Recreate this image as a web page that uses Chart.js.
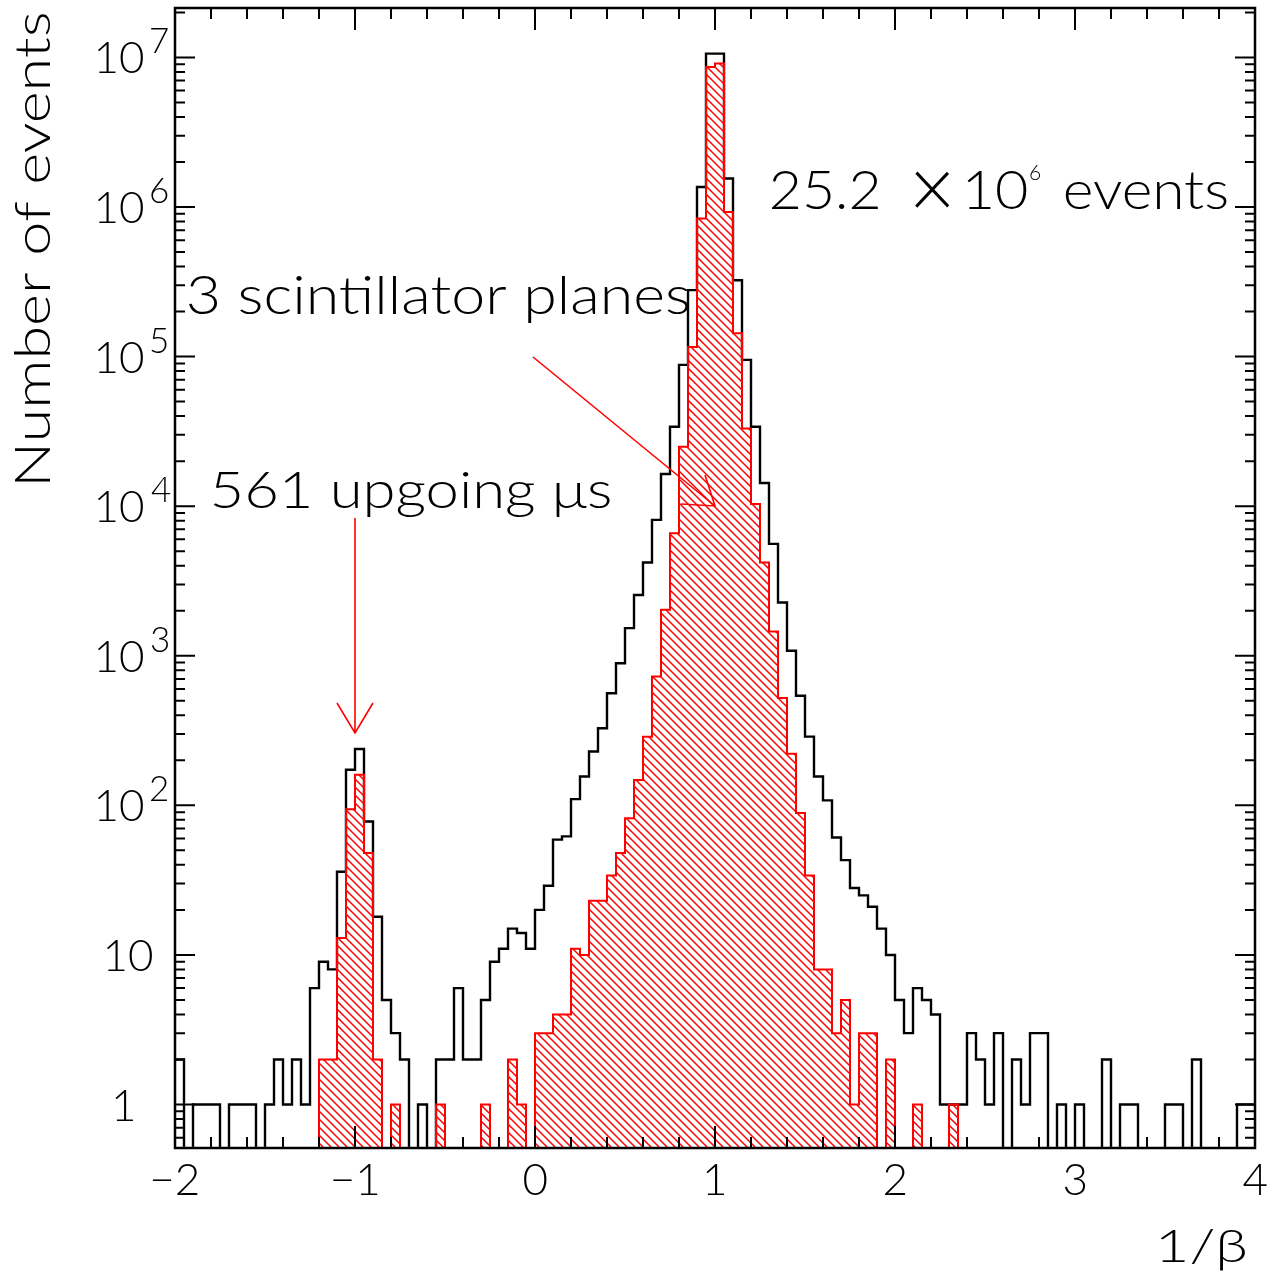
<!DOCTYPE html>
<html>
<head>
<meta charset="utf-8">
<script src="https://cdn.jsdelivr.net/npm/chart.js@4.4.1/dist/chart.umd.min.js"></script>
<style>
  html, body { margin: 0; padding: 0; background: #fff; }
  canvas { display: block; }
</style>
</head>
<body>
<canvas id="chart" width="1271" height="1276"></canvas>
<script>
// histogram binning: 120 bins of 0.05 in 1/beta, from -2 to 4
const binStart = -2;
const binWidth = 0.05;

// all events (black outline), one count per bin
const allEvents = [
  2, 0, 1, 1, 1, 0, 1, 1, 1, 0,                 // -2.00 .. -1.55
  1, 2, 1, 2, 1, 6, 9, 8, 36, 173,              // -1.50 .. -1.05
  238, 78, 18, 5, 3, 2, 0, 1, 0, 2,             // -1.00 .. -0.55
  2, 6, 2, 2, 5, 9, 11, 15, 14, 11,             // -0.50 .. -0.05
  20, 29, 59, 62, 110, 156, 229, 328, 562, 892, //  0.00 ..  0.45
  1530, 2550, 4200, 8100, 16400, 34000, 88000, 278000, 1360000, 10600000, // 0.50 .. 0.95
  10600000, 1550000, 324000, 95000, 34000, 14300, 5600, 2270, 1080, 540,  // 1.00 .. 1.45
  288, 156, 108, 61, 43, 28, 25, 21, 15, 10,    //  1.50 ..  1.95
  5, 3, 6, 5, 4, 1, 1, 1, 3, 2,                 //  2.00 ..  2.45
  1, 3, 0, 2, 1, 3, 3, 0, 1, 0,                 //  2.50 ..  2.95
  1, 0, 0, 2, 0, 1, 1, 0, 0, 0,                 //  3.00 ..  3.45
  1, 1, 0, 2, 0, 0, 0, 0, 1, 1                  //  3.50 ..  3.95
];

// events crossing 3 scintillator planes (red hatched)
const scintEvents = [
  0, 0, 0, 0, 0, 0, 0, 0, 0, 0,
  0, 0, 0, 0, 0, 0, 2, 2, 13, 94,
  160, 48, 2, 0, 1, 0, 0, 0, 0, 1,
  0, 0, 0, 0, 1, 0, 0, 2, 1, 0,
  3, 3, 4, 4, 11, 10, 23, 23, 34, 48,
  82, 148, 288, 726, 2030, 6590, 25000, 116000, 838000, 8630000,
  9090000, 927000, 143000, 33000, 10350, 4200, 1450, 521, 221, 89,
  34, 8, 8, 3, 5, 1, 3, 3, 0, 2,
  0, 0, 1, 0, 0, 0, 1, 0, 0, 0,
  0, 0, 0, 0, 0, 0, 0, 0, 0, 0,
  0, 0, 0, 0, 0, 0, 0, 0, 0, 0,
  0, 0, 0, 0, 0, 0, 0, 0, 0, 0
];

const xTickValues = [-2, -1, 0, 1, 2, 3, 4];
const xTickLabels = ['\u22122', '\u22121', '0', '1', '2', '3', '4'];
const yTickValues = [1, 10, 100, 1e3, 1e4, 1e5, 1e6, 1e7];
const yTickLabels = [['1', ''], ['10', ''], ['10', '2'], ['10', '3'], ['10', '4'], ['10', '5'], ['10', '6'], ['10', '7']];

const FAMILY = "Lato, 'Liberation Sans', sans-serif";
const EMPTY = 0.1; // empty bins sit below the axis minimum

// step outline points at the bin lower edges, plus the closing edge
function histPoints(counts) {
  const pts = counts.map((c, i) => ({ x: binStart + i * binWidth, y: c > 0 ? c : EMPTY }));
  pts.push({ x: binStart + counts.length * binWidth, y: pts[pts.length - 1].y });
  return pts;
}

const canvas = document.getElementById('chart');
const ctx = canvas.getContext('2d');

function makeHatch() {
  const c = document.createElement('canvas');
  c.width = 8; c.height = 8;
  const g = c.getContext('2d');
  g.strokeStyle = '#ff0000';
  g.lineWidth = 1.5;
  g.beginPath();
  g.moveTo(-1, -1); g.lineTo(9, 9);
  g.moveTo(-1, 7); g.lineTo(1, 9);
  g.moveTo(7, -1); g.lineTo(9, 1);
  g.stroke();
  return ctx.createPattern(c, 'repeat');
}

// draw text so that its ink starts at `left`, optionally stretched to `width`
function putText(g, str, left, baseline, size, width) {
  g.font = `300 ${size}px ${FAMILY}`;
  const m = g.measureText(str);
  const ink = m.actualBoundingBoxLeft + m.actualBoundingBoxRight;
  const sx = width ? width / ink : 1;
  g.save();
  g.translate(left, baseline);
  g.scale(sx, 1);
  g.textAlign = 'left';
  g.textBaseline = 'alphabetic';
  g.fillText(str, m.actualBoundingBoxLeft, 0);
  g.restore();
  return ink * sx;
}

function inkWidth(g, str, size) {
  g.font = `300 ${size}px ${FAMILY}`;
  const m = g.measureText(str);
  return m.actualBoundingBoxLeft + m.actualBoundingBoxRight;
}

function arrow(g, x1, y1, x2, y2, w1, w2) {
  g.beginPath();
  g.moveTo(x1, y1); g.lineTo(x2, y2);
  g.moveTo(w1[0], w1[1]); g.lineTo(x2, y2); g.lineTo(w2[0], w2[1]);
  g.stroke();
}

const framePlugin = {
  id: 'frame',
  afterDatasetsDraw(chart) {
    const g = chart.ctx;
    const a = chart.chartArea;
    const x = chart.scales.x;
    const y = chart.scales.y;
    g.save();
    g.fillStyle = '#000';
    g.strokeStyle = '#000';

    // ticks on all four sides, pointing inwards
    g.lineWidth = 2;
    g.beginPath();
    for (let k = 0; k <= 30; k++) {
      const v = -2 + k * 0.2;
      const px = x.getPixelForValue(v);
      const len = k % 5 === 0 ? 22 : 11;
      g.moveTo(px, a.bottom); g.lineTo(px, a.bottom - len);
      g.moveTo(px, a.top); g.lineTo(px, a.top + len);
    }
    for (let e = -1; e <= 7; e++) {
      for (let m = 1; m <= 9; m++) {
        const v = m * Math.pow(10, e);
        if (v < y.min || v > y.max) continue;
        const py = y.getPixelForValue(v);
        const len = m === 1 ? 20 : 10;
        g.moveTo(a.left, py); g.lineTo(a.left + len, py);
        g.moveTo(a.right, py); g.lineTo(a.right - len, py);
      }
    }
    g.stroke();

    g.lineWidth = 2.5;
    g.strokeRect(a.left, a.top, a.right - a.left, a.bottom - a.top);

    // x tick labels
    xTickValues.forEach((v, i) => {
      const px = x.getPixelForValue(v);
      const w = inkWidth(g, xTickLabels[i], 44);
      putText(g, xTickLabels[i], px - w / 2, 1195, 44);
    });

    // y tick labels with superscript exponents
    yTickValues.forEach((v, i) => {
      const py = y.getPixelForValue(v);
      const [base, sup] = yTickLabels[i];
      if (base === '1') {
        const w = inkWidth(g, base, 44);
        putText(g, base, 124 - w / 2, py + 16, 44);
      } else if (!sup) {
        const w = inkWidth(g, base, 44);
        putText(g, base, 152 - w, py + 16, 44);
      } else {
        const w = inkWidth(g, base, 44);
        putText(g, base, 143 - w, py + 16, 44);
        putText(g, sup, 151, py - 4, 35);
      }
    });

    // axis titles
    putText(g, '1/\u03b2', 1160, 1262, 46, 85);
    g.save();
    g.translate(50, 482);
    g.rotate(-Math.PI / 2);
    putText(g, 'Number of events', 0, 0, 50, 468);
    g.restore();

    // annotations
    putText(g, '25.2', 772, 209, 54, 106);
    g.font = `300 80px ${FAMILY}`;
    const xm = g.measureText('\u00d7');
    const xh = xm.actualBoundingBoxAscent + xm.actualBoundingBoxDescent;
    g.save();
    g.translate(915, 170);
    g.scale(35 / (xm.actualBoundingBoxLeft + xm.actualBoundingBoxRight), 38 / xh);
    g.textAlign = 'left'; g.textBaseline = 'alphabetic';
    g.fillText('\u00d7', xm.actualBoundingBoxLeft, xm.actualBoundingBoxAscent);
    g.restore();
    putText(g, '10', 967, 209, 54, 60);
    putText(g, '6', 1030, 180, 21);
    putText(g, 'events', 1065, 209, 54, 162);

    putText(g, '3 scintillator planes', 188, 314, 53, 500);
    putText(g, '561 upgoing \u03bcs', 213, 508, 52, 397);

    g.strokeStyle = '#ff0000';
    g.lineWidth = 1.6;
    arrow(g, 355, 518, 355, 733, [337, 703], [373, 703]);
    arrow(g, 533, 357, 715, 506, [705, 475], [681, 504]);
    g.restore();
  }
};

new Chart(ctx, {
  type: 'line',
  data: {
    datasets: [
      {
        label: '3 scintillator planes',
        data: histPoints(scintEvents),
        stepped: true,
        borderColor: '#ff0000',
        borderWidth: 2,
        backgroundColor: makeHatch(),
        fill: 'start',
        pointRadius: 0,
        order: 0
      },
      {
        label: 'all events',
        data: histPoints(allEvents),
        stepped: true,
        borderColor: '#000000',
        borderWidth: 2.4,
        fill: false,
        pointRadius: 0,
        order: 1
      }
    ]
  },
  options: {
    responsive: false,
    animation: false,
    layout: { padding: { left: 175, right: 16, top: 8, bottom: 128 } },
    plugins: { legend: { display: false }, tooltip: { enabled: false } },
    scales: {
      x: { type: 'linear', min: -2, max: 4, display: false },
      y: { type: 'logarithmic', min: 0.512, max: 2.14e7, display: false }
    }
  },
  plugins: [framePlugin]
});
</script>
</body>
</html>
